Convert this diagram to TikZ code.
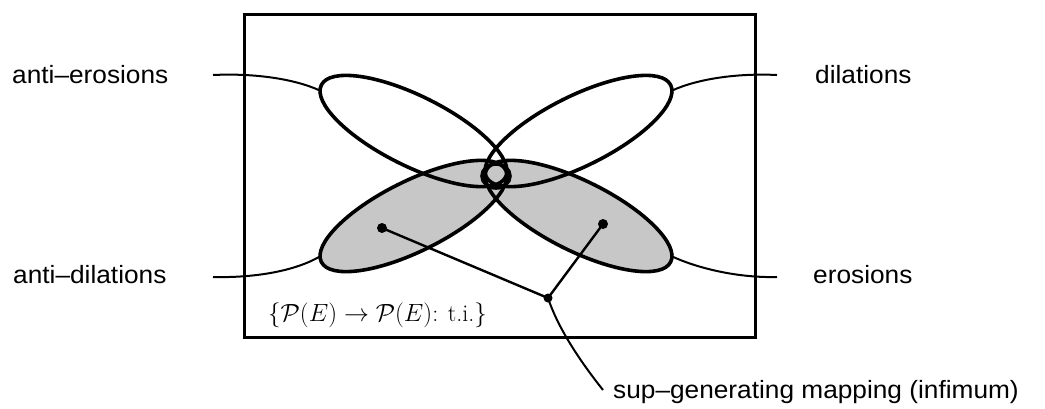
\documentclass[tikz,border=0pt]{standalone}
\usepackage{fontspec}
\newfontfamily\labfont[FakeStretch=1.05]{Liberation Sans}
\begin{document}
\begin{tikzpicture}[x=1pt,y=-1pt,
  lab/.style={font=\labfont\fontsize{25}{30}\selectfont, inner sep=0pt, anchor=base west},
  ell/.style={line width=3.6pt},
  shadefill/.style={fill=black!22},
  lead/.style={line width=2pt},
  conn/.style={line width=2.4pt},
  frameline/.style={line width=3pt},
  dot/.style={circle, fill=black, inner sep=0pt, minimum size=10pt}]
\useasboundingbox (0,0) rectangle (1045,408);
% frame
\draw[frameline] (244,14) rectangle (755,337);
% shaded ellipses (anti-dilations, erosions)
\fill[shadefill, rotate around={26.5:(413.5,216)}] (413.5,216) ellipse [x radius=103, y radius=35];
\fill[shadefill, rotate around={-26.5:(578.5,216)}] (578.5,216) ellipse [x radius=103, y radius=35];
% outlines
\draw[ell, rotate around={-26.5:(413.5,131)}] (413.5,131) ellipse [x radius=103, y radius=35];
\draw[ell, rotate around={26.5:(578.5,131)}] (578.5,131) ellipse [x radius=103, y radius=35];
\draw[ell, rotate around={26.5:(413.5,216)}] (413.5,216) ellipse [x radius=103, y radius=35];
\draw[ell, rotate around={-26.5:(578.5,216)}] (578.5,216) ellipse [x radius=103, y radius=35];
\draw[ell] (496,176) ellipse [x radius=14, y radius=12];
% tips of the ellipses
\coordinate (tUL) at (320,90.6);
\coordinate (tUR) at (672,90.6);
\coordinate (tLL) at (320,256.4);
\coordinate (tLR) at (672,256.4);
% labels
\node[lab] (ae) at (12,83) {anti\textendash erosions};
\node[lab] (ad) at (13,283) {anti\textendash dilations};
\node[lab] (di) at (815,83) {dilations};
\node[lab] (er) at (813,283) {erosions};
\node[lab] (sg) at (613,398) {sup\textendash generating mapping (infimum)};
\node[anchor=base west, inner sep=0pt, font=\fontsize{24}{29}\selectfont] (set) at (268,321)
  {$\{\mathcal{P}(E)\rightarrow\mathcal{P}(E)\mbox{: t.i.}\}$};
% leader ends
\coordinate (aeL) at (213,75);
\coordinate (adL) at (213,277);
\coordinate (diL) at (777,75);
\coordinate (erL) at (777,277);
\coordinate (sgL) at (603,390);
% leaders
\draw[lead] (aeL) .. controls (255,73) and (295,79) .. (tUL);
\draw[lead] (adL) .. controls (255,278) and (295,271) .. (tLL);
\draw[lead] (tUR) .. controls (697,79) and (737,73) .. (diL);
\draw[lead] (tLR) .. controls (697,268) and (737,278) .. (erL);
% sup-generating connectors
\node[dot] (dL) at (382,228) {};
\node[dot] (dR) at (603,224) {};
\node[dot, minimum size=9pt] (J) at (548,298) {};
\draw[conn] (dL.center) -- (J.center);
\draw[conn] (dR.center) -- (J.center);
\draw[lead] (J.center) .. controls (557,325) and (576,356) .. (sgL);
\end{tikzpicture}
\end{document}
